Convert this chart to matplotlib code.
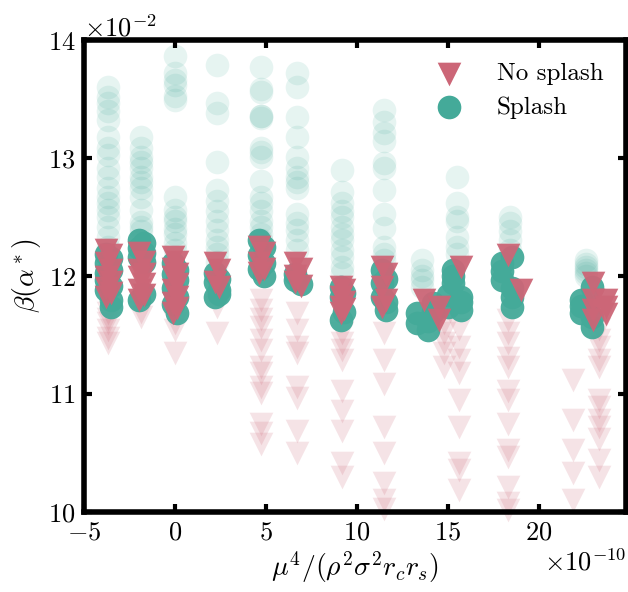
import matplotlib
matplotlib.use('Agg')
import matplotlib.pyplot as plt
import numpy as np

plt.rcParams['font.family'] = 'serif'
plt.rcParams['font.serif'] = ['cmr10']
plt.rcParams['mathtext.fontset'] = 'cm'
plt.rcParams['axes.formatter.use_mathtext'] = True
plt.rcParams['axes.unicode_minus'] = False

# x in units of 1e-10, y in units of 1e-2
# splash, faded points
splash_faded_x = [-3.7, -1.9, 0.0, 2.3, 4.7, 6.7, 9.2, 11.5, 13.6, 15.5, 18.4, 22.6]
splash_faded_y = [
    [13.60, 13.52, 13.47, 13.40, 13.32, 13.18, 13.09, 13.03, 12.92, 12.84, 12.75, 12.67, 12.62,
     12.56, 12.50, 12.42, 12.33, 12.25],
    [13.18, 13.09, 13.01, 12.97, 12.92, 12.84, 12.80, 12.75, 12.67, 12.56, 12.46, 12.42, 12.38],
    [13.87, 13.72, 13.66, 13.62, 13.53, 13.49, 12.67, 12.56, 12.50, 12.47, 12.40, 12.36, 12.28, 12.22],
    [13.79, 13.47, 13.38, 12.97, 12.73, 12.64, 12.55, 12.47, 12.39, 12.31, 12.25, 12.19, 12.12],
    [13.77, 13.59, 13.56, 13.36, 13.36, 13.34, 13.09, 13.05, 13.01, 12.81, 12.67, 12.62, 12.55,
     12.47, 12.42, 12.36, 12.31],
    [13.72, 13.60, 13.35, 13.18, 13.01, 12.92, 12.84, 12.80, 12.75, 12.53, 12.45, 12.39, 12.31,
     12.22],
    [12.90, 12.71, 12.62, 12.55, 12.50, 12.42, 12.36, 12.31, 12.22, 12.16, 12.08, 12.03],
    [13.41, 13.31, 13.21, 13.15, 12.96, 12.92, 12.73, 12.53, 12.41, 12.25, 12.19, 12.14],
    [12.14, 12.05, 12.00, 11.97, 11.91],
    [12.84, 12.62, 12.50, 12.47, 12.33, 12.25, 12.19],
    [12.50, 12.45, 12.38, 12.31, 12.22],
    [12.14, 12.10, 12.08, 12.05, 12.03, 12.00],
]

# splash, opaque points
splash_strong_x = [-3.8, -3.5, -2.0, -1.7, -0.1, 0.1, 2.2, 2.4, 4.6, 4.9, 6.6, 6.9, 9.1, 9.3,
                   11.4, 11.6, 13.3, 13.9, 14.2, 15.3, 15.0, 15.7, 18.0, 18.5, 22.3, 22.9]
splash_strong_y = [
    [12.19, 12.11, 12.03, 11.97, 11.88],
    [12.15, 12.05, 11.92, 11.80, 11.74],
    [12.31, 12.24, 12.16, 11.80],
    [12.28, 12.20, 12.12, 11.85],
    [12.11, 12.02, 11.90, 11.76],
    [12.05, 11.97, 11.82, 11.69],
    [12.03, 11.95, 11.82],
    [11.98, 11.88, 11.85],
    [12.31, 12.18, 12.06],
    [12.25, 12.11, 12.00],
    [11.97, 12.02],
    [11.93],
    [11.91, 11.82, 11.63],
    [11.86, 11.70],
    [12.05, 11.94, 11.82],
    [11.98, 11.78, 11.71],
    [11.69, 11.60],
    [11.54, 11.62],
    [11.77, 11.70],
    [12.05, 11.94, 12.00],
    [11.74, 11.84],
    [11.82, 11.71, 11.78],
    [12.11, 11.97, 12.04],
    [12.16, 11.82, 11.74, 11.90],
    [11.80, 11.69, 11.75],
    [11.57, 11.91, 11.65],
]

# no splash, opaque points
nosplash_strong_x = [-3.8, -3.5, -2.0, -1.7, -0.1, 0.1, 2.2, 2.4, 4.6, 4.9, 6.6, 6.9,
                     9.1, 9.3, 11.4, 11.6, 13.7, 14.5, 15.7, 18.3, 19.0, 23.0, 23.7]
nosplash_strong_y = [
    [12.22, 12.11, 11.99, 11.90, 11.82],
    [12.18, 12.05, 11.95, 11.86],
    [12.20, 12.05, 11.99, 11.88, 11.80],
    [12.12, 12.02, 11.93, 11.84],
    [12.16, 12.06, 11.99, 11.88, 11.77, 11.69],
    [12.12, 12.02, 11.93, 11.82, 11.73],
    [12.11, 11.95],
    [12.05, 11.91],
    [12.25, 12.11, 12.03],
    [12.20, 12.06],
    [12.11, 12.00, 11.95],
    [12.06, 11.92],
    [11.91, 11.82, 11.74, 11.69],
    [11.88, 11.78, 11.72],
    [12.08, 11.91, 11.74],
    [12.02, 11.80],
    [11.80],
    [11.74, 11.63],
    [12.08],
    [12.18],
    [11.88],
    [11.94, 11.71, 11.63, 11.80],
    [11.80, 11.74, 11.68],
]

# no splash, faded points
nosplash_faded_x = [-3.7, -1.9, 0.0, 2.3, 4.7, 6.7, 9.2, 11.5,
                    14.8, 15.6, 18.3, 21.9, 23.3]
nosplash_faded_y = [
    [11.69, 11.64, 11.60, 11.54, 11.48, 11.43],
    [11.70, 11.65],
    [11.60, 11.54, 11.35],
    [11.74, 11.52],
    [11.80, 11.71, 11.64, 11.57, 11.46, 11.37, 11.23, 11.18, 11.06, 11.01, 10.75, 10.67, 10.58],
    [11.69, 11.54, 11.40, 11.35, 11.06, 10.97, 10.69, 10.50],
    [11.52, 11.43, 11.37, 11.29, 11.03, 10.86, 10.69, 10.42, 10.30],
    [11.52, 11.29, 11.09, 10.72, 10.50, 10.25, 10.10, 10.03],
    [11.60, 11.52, 11.43, 11.35, 11.23],
    [11.55, 11.40, 11.29, 11.18, 10.95, 10.72, 10.42, 10.36, 10.19],
    [11.63, 11.52, 11.43, 11.31, 11.23, 11.03, 10.95, 10.75, 10.53, 10.47, 10.21, 10.08, 10.02],
    [11.12, 10.78, 10.53, 10.33, 10.10],
    [11.55, 11.46, 11.40, 11.29, 11.23, 10.95, 10.89, 10.78, 10.72, 10.62, 10.44, 10.30],
]

green = '#44AA99'
rose = '#CC6677'


def expand(xs, ys):
    x = np.concatenate([[xv] * len(yv) for xv, yv in zip(xs, ys)])
    y = np.concatenate([yv for yv in ys])
    return x * 1e-10, y * 1e-2


fig = plt.figure(figsize=(6.28, 5.92), dpi=100)
ax = fig.add_axes([0.134, 0.135, 0.863, 0.797])

size = 290

x, y = expand(splash_faded_x, splash_faded_y)
ax.scatter(x, y, s=size, marker='o', color=green, alpha=0.13, lw=0)
x, y = expand(nosplash_faded_x, nosplash_faded_y)
ax.scatter(x, y, s=size, marker='v', color=rose, alpha=0.18, lw=0, clip_on=False)
x, y = expand(splash_strong_x, splash_strong_y)
ax.scatter(x, y, s=size, marker='o', color=green, alpha=0.95, lw=0)
x, y = expand(nosplash_strong_x, nosplash_strong_y)
ax.scatter(x, y, s=size, marker='v', color=rose, alpha=0.95, lw=0)

# legend handles
ax.scatter([], [], s=size, marker='v', color=rose, lw=0, label='No splash')
ax.scatter([], [], s=size, marker='o', color=green, lw=0, label='Splash')
handles, labels = ax.get_legend_handles_labels()
ax.legend(handles, labels, loc='upper right', frameon=False, fontsize=18,
          handletextpad=0.9, borderaxespad=0.5, labelspacing=0.45)

ax.set_xlim(-5e-10, 24.8e-10)
ax.set_ylim(0.10, 0.14)
ax.set_xticks(np.arange(-5, 21, 5) * 1e-10)
ax.set_yticks(np.arange(10, 15, 1) * 1e-2)
ax.ticklabel_format(axis='x', style='sci', scilimits=(-10, -10), useMathText=True)
ax.ticklabel_format(axis='y', style='sci', scilimits=(-2, -2), useMathText=True)

ax.set_xlabel(r'$\mu^4/(\rho^2\sigma^2 r_c r_s)$', fontsize=20, labelpad=4)
ax.set_ylabel(r'$\beta(\alpha^*)$', fontsize=20)

for sp in ax.spines.values():
    sp.set_linewidth(4)
ax.tick_params(direction='in', length=6, width=3, labelsize=19,
               top=True, right=True, pad=6)
ax.xaxis.get_offset_text().set_fontsize(19)
ax.yaxis.get_offset_text().set_fontsize(19)

plt.savefig('out.png', dpi=100)
